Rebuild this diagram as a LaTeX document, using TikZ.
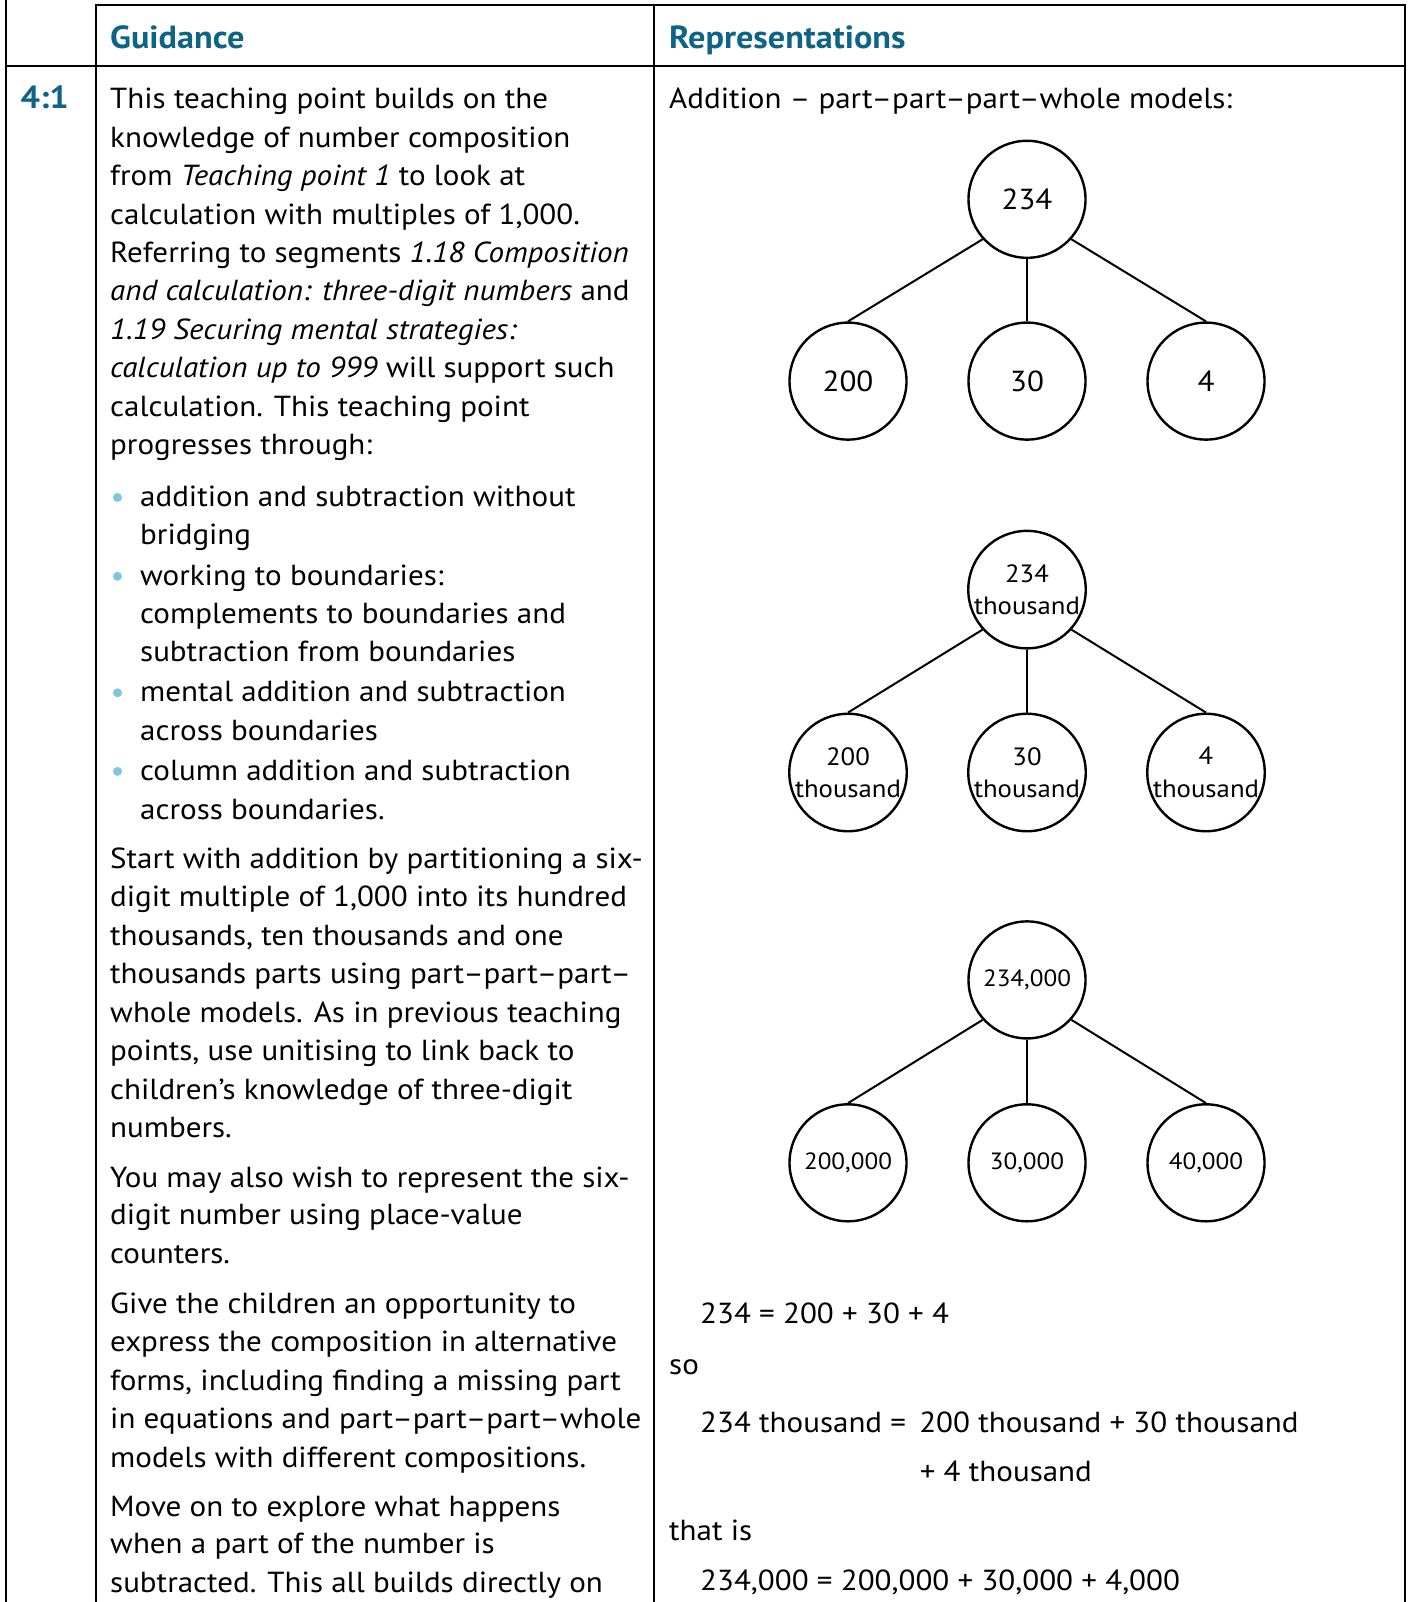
\documentclass[tikz,border=0pt]{standalone}
\usepackage{fontspec}
\setmainfont{PT Sans}[FakeStretch=1.07]
\definecolor{hdblue}{HTML}{0E6487}
\definecolor{dotblue}{HTML}{7DC8DC}
\tikzset{
    TX/.style ={font=\fontsize{29}{38}\selectfont, inner sep=0pt, anchor=base west},
    HD/.style ={font=\fontsize{32}{38}\selectfont\bfseries, text=hdblue, inner sep=0pt, anchor=base west},
    BL/.style ={circle, fill=dotblue, inner sep=0pt, minimum size=9pt},
    CC1/.style ={circle, minimum size=117pt, inner sep=0pt, draw, line width=2.4pt, font=\fontsize{29}{34}\selectfont},
    CC2/.style ={CC1, align=center, font=\fontsize{25}{32.5}\selectfont},
    CC3/.style ={CC1, font=\fontsize{23.5}{30}\selectfont},
    LN/.style ={line width=2pt}}

\begin{document}
\begin{tikzpicture}[x=1pt,y=-1pt]
        \useasboundingbox (0,0) rectangle (1407,1602);
        % table rules
        \draw[LN] (6,0) -- (6,1602);
        \draw[LN] (96,5) -- (96,1602);
        \draw[LN] (654,5) -- (654,1602);
        \draw[LN] (1405,5) -- (1405,1602);
        \draw[LN] (95,5) -- (1406,5);
        \draw[LN] (5,66.4) -- (1406,66.4);
        % headings
        \node[HD] (guid) at (110,49) {Guidance};
        \node[HD] (repr) at (669,49) {Representations};
        \node[HD] (tp) at (20.5,109) {4:1};
        % guidance column
        \foreach \y/\t [count=\i] in {109/{This teaching point builds on the},
            147.4/{knowledge of number composition},
            185.8/{from \textit{Teaching point 1} to look at},
            224.2/{calculation with multiples of 1,000.},
            262.6/{Referring to segments \textit{1.18 Composition}},
            301/{\textit{and calculation: three-digit numbers} and},
            339.4/{\textit{1.19 Securing mental strategies:}},
            377.8/{\textit{calculation up to 999} will support such},
            416.2/{calculation. This teaching point},
            454.6/{progresses through:}}
            \node[TX] (ga\i) at (110,\y) {\t};
        \foreach \y [count=\i] in {497.5,576.3,692.8,771.4}
            \node[BL] (dot\i) at (117.5,\y) {};
        \foreach \y/\t [count=\i] in {506.6/{addition and subtraction without},
            544.4/{bridging},
            585.3/{working to boundaries:},
            623.1/{complements to boundaries and},
            661.9/{subtraction from boundaries},
            701.8/{mental addition and subtraction},
            740.6/{across boundaries},
            780.4/{column addition and subtraction},
            819.3/{across boundaries.}}
            \node[TX] (gb\i) at (140,\y) {\t};
        \foreach \y/\t [count=\i] in {868.3/{Start with addition by partitioning a six-},
            906.8/{digit multiple of 1,000 into its hundred},
            945.3/{thousands, ten thousands and one},
            983.8/{thousands parts using part–part–part–},
            1022.3/{whole models. As in previous teaching},
            1060.8/{points, use unitising to link back to},
            1099.3/{children’s knowledge of three-digit},
            1137.8/{numbers.},
            1187.1/{You may also wish to represent the six-},
            1224.9/{digit number using place-value},
            1263.7/{counters.},
            1313.8/{Give the children an opportunity to},
            1351.6/{express the composition in alternative},
            1390.4/{forms, including finding a missing part},
            1428.3/{in equations and part–part–part–whole},
            1467.1/{models with different compositions.},
            1516.1/{Move on to explore what happens},
            1553.9/{when a part of the number is},
            1592.8/{subtracted. This all builds directly on}}
            \node[TX] (gc\i) at (110,\y) {\t};
        % representations column
        \node[TX] (intro) at (669,109) {Addition – part–part–part–whole models:};
        \node[CC1] (r1) at (1027,199.3) {234};
        \node[CC1] (a1) at (848,381.1) {200};
        \node[CC1] (b1) at (1027,381.1) {30};
        \node[CC1] (c1) at (1206,381.1) {4};
        \node[CC2] (r2) at (1027,589.6) {234\\thousand};
        \node[CC2] (a2) at (848,772.5) {200\\thousand};
        \node[CC2] (b2) at (1027,772.5) {30\\thousand};
        \node[CC2] (c2) at (1206,772.5) {4\\thousand};
        \node[CC3] (r3) at (1027,979.9) {234,000};
        \node[CC3] (a3) at (848,1162.8) {200,000};
        \node[CC3] (b3) at (1027,1162.8) {30,000};
        \node[CC3] (c3) at (1206,1162.8) {40,000};
        \foreach \k in {1,2,3}{
            \draw[LN] (r\k.222) -- (a\k.north);
            \draw[LN] (r\k) -- (b\k);
            \draw[LN] (r\k.318) -- (c\k.north);}
        \node[TX] (eq1) at (700,1323) {234 = 200 + 30 + 4};
        \node[TX] (so) at (669,1374) {so};
        \node[TX] (eq2) at (700,1432) {234 thousand =\, 200 thousand + 30 thousand};
        \node[TX] (eq3) at (919.6,1481) {+ 4 thousand};
        \node[TX] (thatis) at (669,1540.7) {that is};
        \node[TX] (eq4) at (700,1590.7) {234,000 = 200,000 + 30,000 + 4,000};
    \end{tikzpicture}
\end{document}
